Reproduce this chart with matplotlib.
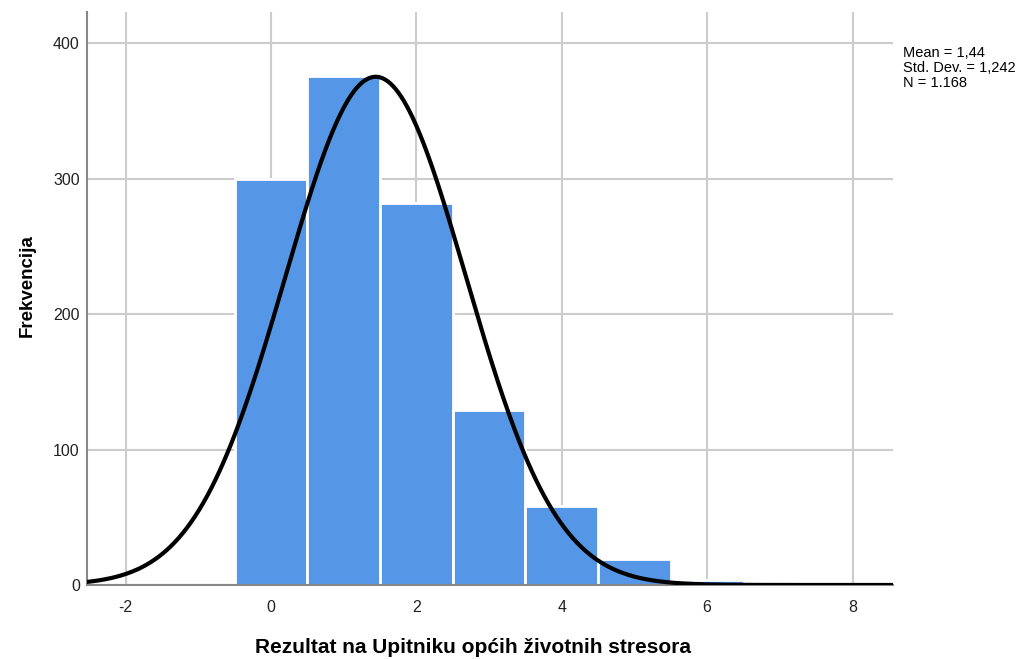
import numpy as np
import matplotlib.pyplot as plt

# Podaci histograma (frekvencije per score)
scores = [0, 1, 2, 3, 4, 5, 6]
counts = [300, 376, 282, 129, 58, 19, 4]
mean = 1.44
std = 1.242
n = 1168
x_ticks = [-2, 0, 2, 4, 6, 8]
y_ticks = [0, 100, 200, 300, 400]


def main():
	plt.rcParams['font.family'] = ['Liberation Sans', 'DejaVu Sans']
	plt.rcParams['axes.unicode_minus'] = False

	fig = plt.figure(figsize=(10.25, 6.59), dpi=100)
	ax = fig.add_axes([0.0846, 0.1123, 0.7866, 0.8695])

	# Staven
	ax.bar(scores, counts, width=1.0, color='#5596e6', edgecolor='white',
		   linewidth=2, zorder=2)

	# Normale curve
	x = np.linspace(-2.6, 8.6, 600)
	y = n * np.exp(-0.5 * ((x - mean) / std) ** 2) / (std * np.sqrt(2 * np.pi))
	ax.plot(x, y, color='black', linewidth=3, zorder=3)

	ax.set_xlim(-2.535, 8.556)
	ax.set_ylim(0, 423)
	ax.set_xticks(x_ticks)
	ax.set_yticks(y_ticks)
	ax.tick_params(length=0, labelsize=11.5, colors='#222222')
	ax.tick_params(axis='x', pad=11)
	ax.tick_params(axis='y', pad=5)
	ax.grid(True, color='#cccccc', linewidth=1.5, zorder=0)
	ax.set_axisbelow(True)

	for side in ['top', 'right']:
		ax.spines[side].set_visible(False)
	ax.spines['left'].set_color('#888888')
	ax.spines['left'].set_linewidth(1.5)
	ax.spines['bottom'].set_color('#888888')
	ax.spines['bottom'].set_linewidth(1.5)

	ax.set_xlabel('Rezultat na Upitniku općih životnih stresora',
				  fontsize=15, fontweight='bold')
	ax.xaxis.set_label_coords(0.479, -0.092)
	ax.set_ylabel('Frekvencija', fontsize=13.5, fontweight='bold')
	ax.yaxis.set_label_coords(-0.063, 0.522)

	fig.text(0.881, 0.930, 'Mean = 1,44\nStd. Dev. = 1,242\nN = 1.168',
			 fontsize=10.5, va='top', ha='left', linespacing=1.1)

	fig.savefig('out.png', dpi=100)


if __name__ == '__main__':
	main()
